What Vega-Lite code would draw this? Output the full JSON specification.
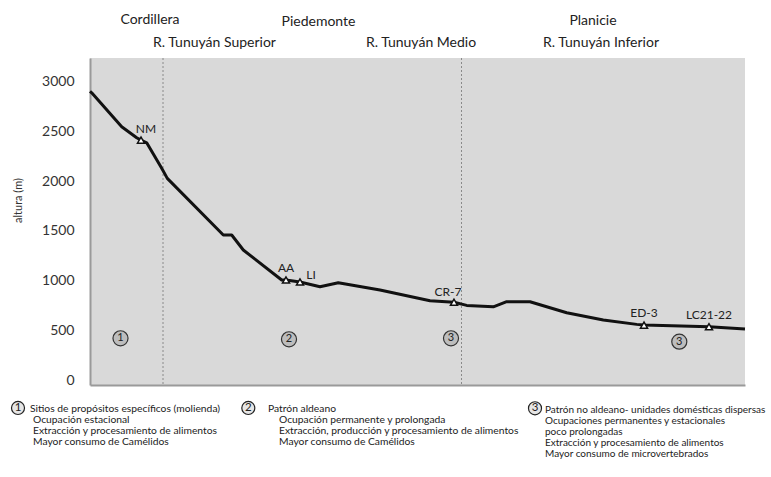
{
  "$schema": "https://vega.github.io/schema/vega-lite/v6.json",
  "width": 655,
  "height": 327,
  "autosize": {"type": "none"},
  "padding": {"left": 90, "top": 58, "right": 26, "bottom": 92},
  "background": "white",
  "config": {"view": {"fill": "#d9d9d9", "stroke": null}, "font": "Lato"},
  "datasets": {
    "perfil": [
      {"dist": 0, "alt": 2905}, {"dist": 1.7, "alt": 2890}, {"dist": 31.7, "alt": 2548}, {"dist": 46.7, "alt": 2438},
      {"dist": 51, "alt": 2414}, {"dist": 56.7, "alt": 2387}, {"dist": 71.7, "alt": 2130}, {"dist": 77.3, "alt": 2029},
      {"dist": 133.3, "alt": 1459}, {"dist": 141.7, "alt": 1459}, {"dist": 153.3, "alt": 1308}, {"dist": 191.7, "alt": 1006},
      {"dist": 196, "alt": 1006}, {"dist": 210, "alt": 986}, {"dist": 230, "alt": 939}, {"dist": 248.3, "alt": 979},
      {"dist": 290, "alt": 905}, {"dist": 340, "alt": 797}, {"dist": 364, "alt": 782}, {"dist": 376.7, "alt": 751},
      {"dist": 403.3, "alt": 737}, {"dist": 416.7, "alt": 788}, {"dist": 440, "alt": 788}, {"dist": 476.7, "alt": 677},
      {"dist": 513.3, "alt": 604}, {"dist": 546.7, "alt": 560}, {"dist": 554, "alt": 553}, {"dist": 619, "alt": 536},
      {"dist": 655, "alt": 513}
    ],
    "sitios": [
      {"sitio": "NM", "dist": 51, "alt": 2414},
      {"sitio": "AA", "dist": 196, "alt": 1006},
      {"sitio": "LI", "dist": 210, "alt": 986},
      {"sitio": "CR-7", "dist": 364, "alt": 782},
      {"sitio": "ED-3", "dist": 554, "alt": 553},
      {"sitio": "LC21-22", "dist": 619, "alt": 536}
    ],
    "divisiones": [{"dist": 73}, {"dist": 371.5}],
    "zonas": [
      {"num": "1", "dist": 30.5, "alt": 420},
      {"num": "2", "dist": 199, "alt": 410},
      {"num": "3", "dist": 361, "alt": 420},
      {"num": "3", "dist": 589.3, "alt": 386}
    ],
    "encabezados": [
      {"texto": "Cordillera", "dist": 60, "alt": 3622},
      {"texto": "Piedemonte", "dist": 228.5, "alt": 3602},
      {"texto": "Planicie", "dist": 503, "alt": 3612},
      {"texto": "R. Tunuyán Superior", "dist": 124.5, "alt": 3391},
      {"texto": "R. Tunuyán Medio", "dist": 331, "alt": 3391},
      {"texto": "R. Tunuyán Inferior", "dist": 511, "alt": 3391}
    ],
    "leyendaCirculos": [
      {"num": "1", "dist": -72, "alt": -281},
      {"num": "2", "dist": 158.3, "alt": -281},
      {"num": "3", "dist": 445, "alt": -284}
    ],
    "leyenda": [
      {"grupo": 1, "texto": "Sitios de propósitos específicos (molienda)", "dist": -60, "alt": -287},
      {"grupo": 1, "texto": "Ocupación estacional", "dist": -57, "alt": -400},
      {"grupo": 1, "texto": "Extracción y procesamiento de alimentos", "dist": -57, "alt": -513},
      {"grupo": 1, "texto": "Mayor consumo de Camélidos", "dist": -57, "alt": -624},
      {"grupo": 2, "texto": "Patrón aldeano", "dist": 178, "alt": -287},
      {"grupo": 2, "texto": "Ocupación permanente y prolongada", "dist": 189, "alt": -400},
      {"grupo": 2, "texto": "Extracción, producción y procesamiento de alimentos", "dist": 189, "alt": -513},
      {"grupo": 2, "texto": "Mayor consumo  de Camélidos", "dist": 189, "alt": -624},
      {"grupo": 3, "texto": "Patrón no aldeano- unidades domésticas dispersas", "dist": 455, "alt": -302},
      {"grupo": 3, "texto": "Ocupaciones permanentes y estacionales", "dist": 455, "alt": -412},
      {"grupo": 3, "texto": "poco prolongadas", "dist": 455, "alt": -526},
      {"grupo": 3, "texto": "Extracción y procesamiento de alimentos", "dist": 455, "alt": -637},
      {"grupo": 3, "texto": "Mayor consumo de microvertebrados", "dist": 455, "alt": -747}
    ]
  },
  "encoding": {
    "x": {
      "field": "dist", "type": "quantitative",
      "scale": {"domain": [0, 655], "nice": false, "zero": false},
      "axis": {"labels": false, "ticks": false, "grid": false, "title": null, "domainColor": "#9a9a9a", "domainWidth": 2}
    },
    "y": {
      "field": "alt", "type": "quantitative",
      "scale": {"domain": [-50, 3240], "nice": false, "zero": false},
      "axis": {
        "values": [0, 500, 1000, 1500, 2000, 2500, 3000], "format": "d",
        "ticks": false, "grid": false, "labelPadding": 16, "labelFontSize": 14, "labelColor": "#333",
        "domainColor": "#9a9a9a", "domainWidth": 2,
        "title": "altura (m)", "titleFontSize": 11, "titleFontWeight": "normal", "titleColor": "#333",
        "titleX": -72, "titleY": 142, "titleAlign": "center", "titleBaseline": "middle"
      }
    }
  },
  "layer": [
    {
      "data": {"name": "divisiones"},
      "mark": {"type": "rule", "color": "#8a8a8a", "strokeDash": [2, 2], "strokeWidth": 1},
      "encoding": {"y": null}
    },
    {
      "data": {"name": "perfil"},
      "mark": {"type": "line", "color": "#111", "strokeWidth": 3, "strokeJoin": "round"},
      "encoding": {}
    },
    {
      "data": {"name": "sitios"},
      "mark": {"type": "point", "shape": "triangle-up", "filled": true, "fill": "white", "stroke": "#111", "strokeWidth": 1.5, "size": 50, "opacity": 1},
      "encoding": {}
    },
    {
      "data": {"name": "sitios"},
      "transform": [{"filter": "datum.sitio == 'AA' || datum.sitio == 'ED-3' || datum.sitio == 'LC21-22'"}],
      "mark": {"type": "text", "fontSize": 12, "color": "#222", "dy": -12, "baseline": "middle"},
      "encoding": {"text": {"field": "sitio"}}
    },
    {
      "data": {"name": "sitios"},
      "transform": [{"filter": "datum.sitio == 'NM'"}],
      "mark": {"type": "text", "fontSize": 12, "color": "#222", "dx": 5, "dy": -11, "baseline": "middle"},
      "encoding": {"text": {"field": "sitio"}}
    },
    {
      "data": {"name": "sitios"},
      "transform": [{"filter": "datum.sitio == 'CR-7'"}],
      "mark": {"type": "text", "fontSize": 12, "color": "#222", "dx": -6, "dy": -10, "baseline": "middle"},
      "encoding": {"text": {"field": "sitio"}}
    },
    {
      "data": {"name": "sitios"},
      "transform": [{"filter": "datum.sitio == 'LI'"}],
      "mark": {"type": "text", "fontSize": 12, "color": "#222", "dx": 11, "dy": -7, "baseline": "middle"},
      "encoding": {"text": {"field": "sitio"}}
    },
    {
      "data": {"name": "zonas"},
      "mark": {"type": "point", "shape": "circle", "filled": true, "fill": "#bdbdbd", "stroke": "#333", "strokeWidth": 1.2, "size": 227, "opacity": 1},
      "encoding": {}
    },
    {
      "data": {"name": "zonas"},
      "mark": {"type": "text", "fontSize": 11, "color": "#222", "baseline": "middle"},
      "encoding": {"text": {"field": "num"}}
    },
    {
      "data": {"name": "encabezados"},
      "mark": {"type": "text", "fontSize": 14, "color": "#222", "baseline": "middle", "align": "center"},
      "encoding": {"text": {"field": "texto"}}
    },
    {
      "data": {"name": "leyendaCirculos"},
      "mark": {"type": "point", "shape": "circle", "filled": true, "fill": "#e6e6e6", "stroke": "#222", "strokeWidth": 1.2, "size": 170, "opacity": 1},
      "encoding": {}
    },
    {
      "data": {"name": "leyendaCirculos"},
      "mark": {"type": "text", "fontSize": 11.5, "color": "#222", "baseline": "middle"},
      "encoding": {"text": {"field": "num"}}
    },
    {
      "data": {"name": "leyenda"},
      "transform": [{"filter": "datum.grupo < 3"}],
      "mark": {"type": "text", "fontSize": 10.3, "color": "#222", "baseline": "middle", "align": "left"},
      "encoding": {"text": {"field": "texto"}}
    },
    {
      "data": {"name": "leyenda"},
      "transform": [{"filter": "datum.grupo == 3"}],
      "mark": {"type": "text", "fontSize": 10, "color": "#222", "baseline": "middle", "align": "left"},
      "encoding": {"text": {"field": "texto"}}
    }
  ]
}
